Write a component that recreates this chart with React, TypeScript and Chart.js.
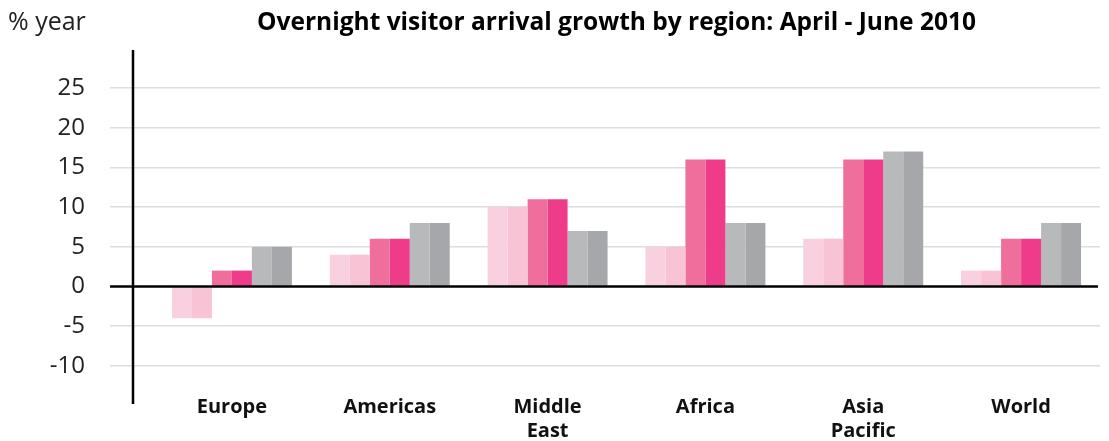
import React, { useEffect, useRef } from "react";
import { Chart, registerables } from "chart.js";

Chart.register(...registerables);

const categories: (string | string[])[] = ["Europe", "Americas", ["Middle", "East"], "Africa", ["Asia", "Pacific"], "World"];
const seriesA = [-4, 4, 10, 5, 6, 2];
const seriesB = [2, 6, 11, 16, 16, 6];
const seriesC = [5, 8, 7, 8, 17, 8];
const yTicks = [-10, -5, 0, 5, 10, 15, 20, 25];
const title = "Overnight visitor arrival growth by region: April - June 2010";
const yUnit = "% year";

const FONT = "'Open Sans', 'Noto Sans', sans-serif";

const overlayPlugin = {
  id: "overlay",
  afterDatasetsDraw(chart: any) {
    const { ctx, chartArea, scales } = chart;
    const y0 = scales.y.getPixelForValue(0);
    ctx.save();
    ctx.strokeStyle = "#000";
    ctx.lineWidth = 2.5;
    ctx.beginPath();
    ctx.moveTo(chartArea.left - 43, y0);
    ctx.lineTo(chartArea.right - 2, y0);
    ctx.stroke();
    ctx.beginPath();
    const ax = chartArea.left - 20;
    ctx.moveTo(ax, chartArea.top);
    ctx.lineTo(ax, 404);
    ctx.stroke();
    ctx.fillStyle = "#000";
    ctx.textBaseline = "middle";
    ctx.font = `bold 24.5px ${FONT}`;
    ctx.textAlign = "center";
    ctx.fillText(title, (ax + chartArea.right) / 2, 23);
    ctx.font = `25px ${FONT}`;
    ctx.textAlign = "left";
    ctx.fillStyle = "#222";
    ctx.fillText(yUnit, 8, 23);
    ctx.restore();
  },
};

export default function App() {
  const ref = useRef<HTMLCanvasElement>(null);
  useEffect(() => {
    if (!ref.current) return;
    const mk = (label: string, data: number[], color: string) => ({
      label,
      data,
      backgroundColor: color,
      borderWidth: 0,
      barPercentage: 1,
      categoryPercentage: 0.76,
    });
    const chart = new Chart(ref.current, {
      type: "bar",
      data: {
        labels: categories as any,
        datasets: [
          mk("A1", seriesA, "#F9D0DF"),
          mk("A2", seriesA, "#F8C4D5"),
          mk("B1", seriesB, "#F06E9C"),
          mk("B2", seriesB, "#EE3C8A"),
          mk("C1", seriesC, "#B8B9BB"),
          mk("C2", seriesC, "#A6A7AA"),
        ],
      },
      options: {
        animation: false,
        responsive: false,
        maintainAspectRatio: false,
        layout: { padding: { top: 50, right: 9, left: 0, bottom: 0 } },
        plugins: { legend: { display: false }, tooltip: { enabled: false }, title: { display: false } },
        scales: {
          x: {
            grid: { display: false },
            border: { display: false },
            ticks: {
              color: "#111",
              font: { family: FONT, size: 20, weight: "bold", lineHeight: 1.2 },
              padding: -5,
              maxRotation: 0,
              autoSkip: false,
            },
            afterFit: (s: any) => {
              s.height = 49;
            },
          },
          y: {
            min: -13.3,
            max: 29.8,
            afterBuildTicks: (s: any) => {
              s.ticks = yTicks.map((v) => ({ value: v }));
            },
            afterFit: (s: any) => {
              s.width = 153;
            },
            border: { display: false },
            grid: {
              color: (c: any) => (c.tick && c.tick.value === 0 ? "rgba(0,0,0,0)" : "#DDDDDD"),
              lineWidth: 1.5,
              tickLength: 43,
            },
            ticks: {
              color: "#222",
              font: { family: FONT, size: 24 },
              padding: 25,
            },
          },
        },
      },
      plugins: [overlayPlugin],
    });
    return () => chart.destroy();
  }, []);
  return (
    <div style={{ position: "fixed", left: 0, top: 0, width: 1109, height: 441, background: "#fff" }}>
      <canvas ref={ref} width={1109} height={441} style={{ width: 1109, height: 441 }} />
    </div>
  );
}
